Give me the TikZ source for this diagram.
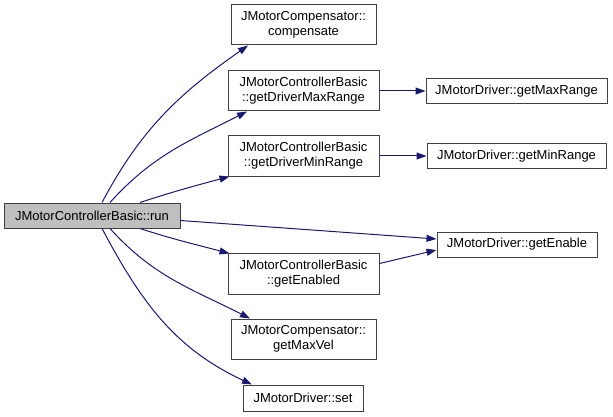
\documentclass[tikz,border=0pt]{standalone}
\usepackage{fontspec}
\setmainfont{Liberation Sans}
\usetikzlibrary{arrows.meta}
\definecolor{edgeblue}{HTML}{191970}
\tikzset{fn/.style={draw=black!75,line width=1pt,fill=white,align=center,inner sep=0pt,font=\fontsize{13}{15}\selectfont},
	hl/.style={fn,fill=black!25},
	call/.style={draw=edgeblue,line width=1pt,-{Triangle[length=10pt,width=7pt,fill=edgeblue]}}}

\begin{document}
\begin{tikzpicture}[x=1pt,y=1pt]
		\useasboundingbox (0,0) rectangle (613,-417);
		
		\node[hl,minimum width=176pt,minimum height=25pt] (run) at (92,-215.5) {JMotorControllerBasic::run};
		
		\node[fn,minimum width=145pt,minimum height=40pt] (comp) at (303.5,-25) {JMotorCompensator::\\compensate};
		\node[fn,minimum width=151pt,minimum height=40pt] (gdmax) at (303.5,-91) {JMotorControllerBasic\\::getDriverMaxRange};
		\node[fn,minimum width=151pt,minimum height=40pt] (gdmin) at (303.5,-156) {JMotorControllerBasic\\::getDriverMinRange};
		\node[fn,minimum width=151pt,minimum height=41pt] (gen) at (303.5,-273.5) {JMotorControllerBasic\\::getEnabled};
		\node[fn,minimum width=145pt,minimum height=40pt] (gvel) at (303.5,-339) {JMotorCompensator::\\getMaxVel};
		\node[fn,minimum width=120pt,minimum height=26pt] (set) at (303,-398) {JMotorDriver::set};
		
		\node[fn,minimum width=181pt,minimum height=25pt] (gmax) at (516.5,-91) {JMotorDriver::getMaxRange};
		\node[fn,minimum width=179pt,minimum height=25pt] (gmin) at (516.5,-156) {JMotorDriver::getMinRange};
		\node[fn,minimum width=160pt,minimum height=25pt] (genable) at (517,-244.5) {JMotorDriver::getEnable};
		
		% calls from run
		\draw[call] ([xshift=10pt]run.north) to[out=62,in=215] ([xshift=-55.5pt]comp.south);
		\draw[call] ([xshift=18pt]run.north) to[out=48,in=207] ([xshift=-56.5pt]gdmax.south);
		\draw[call] ([xshift=48pt]run.north) to[out=18,in=195] ([xshift=2pt]gdmin.south west);
		\draw[call] ([yshift=-5pt]run.east) -- ([yshift=5.5pt]genable.west);
		\draw[call] ([xshift=48pt]run.south) to[out=-18,in=165] ([xshift=2pt,yshift=-1pt]gen.north west);
		\draw[call] ([xshift=18pt]run.south) to[out=-48,in=153] ([xshift=-53.5pt]gvel.north);
		\draw[call] ([xshift=10pt]run.south) to[out=-62,in=155] ([xshift=-51pt]set.north);
		
		% second level
		\draw[call] (gdmax.east) -- (gmax.west);
		\draw[call] (gdmin.east) -- (gmin.west);
		\draw[call] ([yshift=10pt]gen.east) -- ([yshift=-5.5pt]genable.west);
\end{tikzpicture}
\end{document}
